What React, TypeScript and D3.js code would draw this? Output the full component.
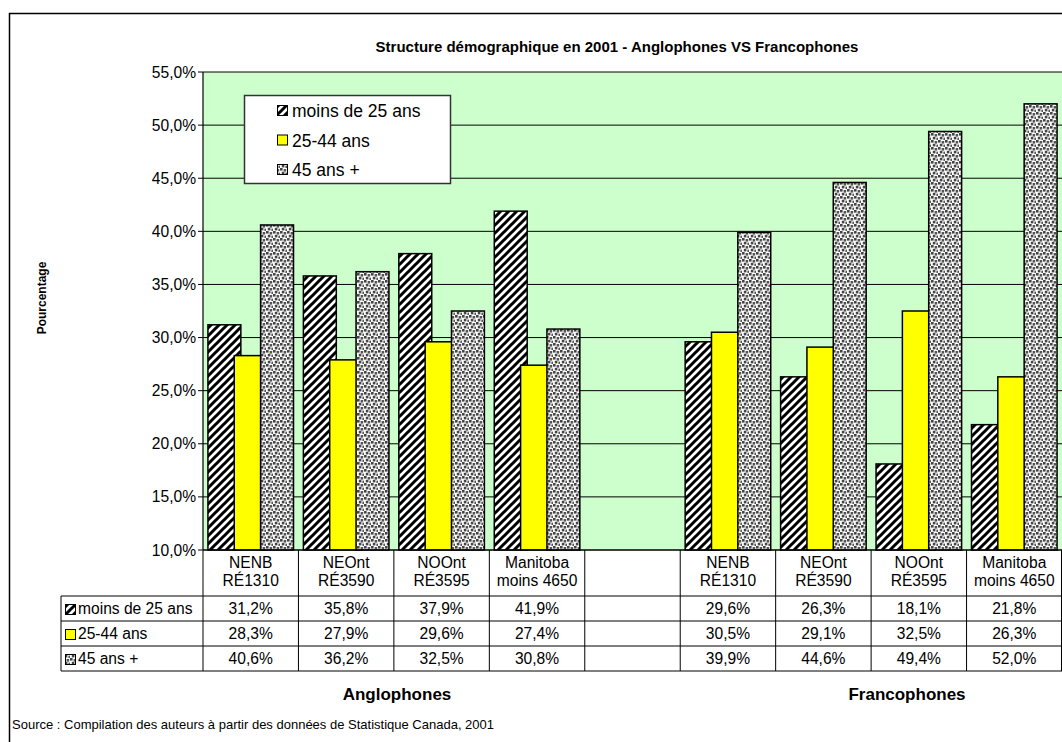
import React from "react";
import * as d3 from "d3";

const categories = [
  ["NENB", "RÉ1310"],
  ["NEOnt", "RÉ3590"],
  ["NOOnt", "RÉ3595"],
  ["Manitoba", "moins 4650"],
  ["", ""],
  ["NENB", "RÉ1310"],
  ["NEOnt", "RÉ3590"],
  ["NOOnt", "RÉ3595"],
  ["Manitoba", "moins 4650"],
];
const seriesNames = ["moins de 25 ans", "25-44 ans", "45 ans +"];
const moins25 = [31.2, 35.8, 37.9, 41.9, null, 29.6, 26.3, 18.1, 21.8];
const age2544 = [28.3, 27.9, 29.6, 27.4, null, 30.5, 29.1, 32.5, 26.3];
const plus45 = [40.6, 36.2, 32.5, 30.8, null, 39.9, 44.6, 49.4, 52.0];
const tableLabels = [
  ["31,2%", "35,8%", "37,9%", "41,9%", "", "29,6%", "26,3%", "18,1%", "21,8%"],
  ["28,3%", "27,9%", "29,6%", "27,4%", "", "30,5%", "29,1%", "32,5%", "26,3%"],
  ["40,6%", "36,2%", "32,5%", "30,8%", "", "39,9%", "44,6%", "49,4%", "52,0%"],
];
const yTicks = [10, 15, 20, 25, 30, 35, 40, 45, 50, 55];
const groupLabels = ["Anglophones", "Francophones"];

const FONT = "'Liberation Sans', Arial, sans-serif";

export default function App() {
  const W = 1062, H = 742;
  const left = 203, right = 1062, top = 72, bottom = 550;
  const idx = categories.map((_, i) => String(i));
  const x = d3.scaleBand<string>().domain(idx).range([left, right]).padding(0);
  const y = d3.scaleLinear().domain([10, 55]).range([bottom, top]);
  const step = x.step();
  const bw = step / 2.9;
  const series = [moins25, age2544, plus45];
  const fills = ["url(#hatch)", "#FFFF00", "url(#dots)"];
  const rowTop = 596, rowH = 25;
  const tableBottom = rowTop + rowH * 3;
  const fmt = (v: number) => d3.format(".1f")(v).replace(".", ",") + "%";
  const FS = 15.6;

  return (
    <svg width={W} height={H} style={{ position: "absolute", left: 0, top: 0, background: "#fff" }} fontFamily={FONT}>
      <defs>
        <pattern id="hatch" patternUnits="userSpaceOnUse" width={8} height={8}>
          <rect width={8} height={8} fill="#fff" />
          <path d="M-2,2 l4,-4 M0,8 l8,-8 M6,10 l4,-4" stroke="#000" strokeWidth={3} />
        </pattern>
        <pattern id="dots" patternUnits="userSpaceOnUse" width={7} height={7}>
          <rect width={7} height={7} fill="#fff" />
          <rect x={0} y={0} width={2.6} height={2.6} fill="#444" />
          <rect x={3.6} y={1} width={2.6} height={2.6} fill="#555" />
          <rect x={1.8} y={3.8} width={2.6} height={2.6} fill="#444" />
          <rect x={5.4} y={4.6} width={2.6} height={2.6} fill="#555" />
        </pattern>
      </defs>
      {/* outer frame */}
      <rect x={9.5} y={13.5} width={1100} height={800} fill="#fff" stroke="#000" strokeWidth={1.5} />
      {/* title */}
      <text x={617} y={52} textAnchor="middle" fontSize={15} fontWeight="bold">
        Structure démographique en 2001 - Anglophones VS Francophones
      </text>
      {/* plot area */}
      <rect x={left} y={top} width={right - left} height={bottom - top} fill="#CCFFCC" />
      {yTicks.map((t) => (
        <g key={t}>
          <line x1={left} x2={right} y1={y(t)} y2={y(t)} stroke="#000" strokeWidth={1} />
          <line x1={left - 5} x2={left} y1={y(t)} y2={y(t)} stroke="#000" />
          <text x={left - 7} y={y(t) + 5.5} textAnchor="end" fontSize={FS}>
            {fmt(t)}
          </text>
        </g>
      ))}
      <line x1={left} x2={left} y1={top} y2={bottom} stroke="#000" strokeWidth={1.2} />
      {/* bars */}
      {series.map((vals, s) =>
        vals.map((v, i) =>
          v == null ? null : (
            <rect
              key={s + "-" + i}
              x={(x(String(i)) as number) + 0.15 * bw + s * 0.8 * bw}
              y={y(v)}
              width={bw}
              height={bottom - y(v)}
              fill={fills[s]}
              stroke="#000"
              strokeWidth={1.5}
            />
          )
        )
      )}
      {/* data table */}
      {[bottom, rowTop, rowTop + rowH, rowTop + 2 * rowH, tableBottom].map((yy, k) => (
        <line key={k} x1={k === 0 ? left : 61} x2={right} y1={yy} y2={yy} stroke="#000" strokeWidth={1} />
      ))}
      <line x1={61} x2={61} y1={rowTop} y2={tableBottom} stroke="#000" />
      {idx.map((d) => (
        <line key={d} x1={x(d) as number} x2={x(d) as number} y1={bottom} y2={tableBottom} stroke="#000" />
      ))}
      <line x1={right - 0.5} x2={right - 0.5} y1={bottom} y2={tableBottom} stroke="#000" />
      {categories.map((c, i) => (
        <text key={i} textAnchor="middle" fontSize={FS}>
          <tspan x={(x(String(i)) as number) + step / 2} y={568}>{c[0]}</tspan>
          <tspan x={(x(String(i)) as number) + step / 2} y={586}>{c[1]}</tspan>
        </text>
      ))}
      {seriesNames.map((n, s) => (
        <g key={n}>
          <rect x={65.5} y={rowTop + s * rowH + 8.5} width={10} height={10} fill={fills[s]} stroke="#000" />
          <text x={78} y={rowTop + s * rowH + 18} fontSize={FS}>{n}</text>
          {tableLabels[s].map((t, i) => (
            <text key={i} x={(x(String(i)) as number) + step / 2} y={rowTop + s * rowH + 18} textAnchor="middle" fontSize={FS}>
              {t}
            </text>
          ))}
        </g>
      ))}
      {/* legend */}
      <rect x={244.5} y={95.5} width={206} height={88} fill="#fff" stroke="#333" strokeWidth={1.5} />
      {seriesNames.map((n, s) => (
        <g key={n}>
          <rect x={277.5} y={105.5 + s * 29.5} width={10} height={10} fill={fills[s]} stroke="#000" />
          <text x={292} y={117 + s * 29.5} fontSize={17.5}>{n}</text>
        </g>
      ))}
      {/* axis title */}
      <text transform="translate(46,298) rotate(-90)" textAnchor="middle" fontSize={12} fontWeight="bold">
        Pourcentage
      </text>
      {/* group labels */}
      <text x={397} y={700} textAnchor="middle" fontSize={17} fontWeight="bold">{groupLabels[0]}</text>
      <text x={907} y={700} textAnchor="middle" fontSize={17} fontWeight="bold">{groupLabels[1]}</text>
      <text x={12} y={729} fontSize={13}>
        Source : Compilation des auteurs à partir des données de Statistique Canada, 2001
      </text>
    </svg>
  );
}
